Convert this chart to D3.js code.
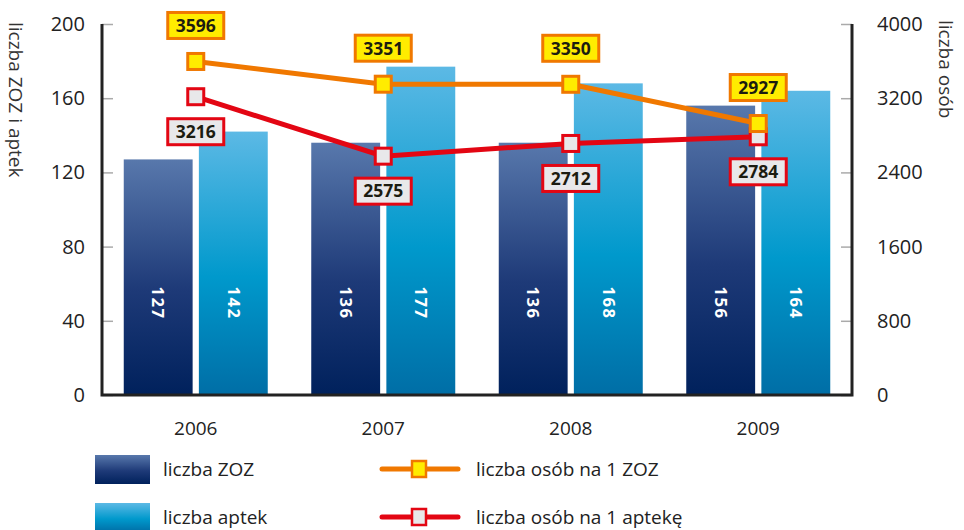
<!DOCTYPE html>
<html>
<head>
  <meta charset="utf-8">
  <title>ZOZ i apteki</title>
  <script src="https://d3js.org/d3.v7.min.js"></script>
  <style>
    body { margin: 0; background: #fff; }
    text { font-family: "Open Sans", sans-serif; }
  </style>
</head>
<body>
<script>
// dane
var years = ["2006", "2007", "2008", "2009"];
var zoz = [127, 136, 136, 156];
var aptek = [142, 177, 168, 164];
var osobNaZoz = [3596, 3351, 3350, 2927];
var osobNaApteke = [3216, 2575, 2712, 2784];
var leftTicks = [0, 40, 80, 120, 160, 200];
var rightTicks = [0, 800, 1600, 2400, 3200, 4000];

var width = 964, height = 530;
var margin = { top: 24, bottom: 135, left: 102, right: 112 };
var plotBottom = height - margin.bottom;

var svg = d3.select("body").append("svg").attr("width", width).attr("height", height);

// gradienty
var defs = svg.append("defs");
var g1 = defs.append("linearGradient").attr("id", "gZoz").attr("x1", 0).attr("y1", 0).attr("x2", 0).attr("y2", 1);
g1.append("stop").attr("offset", "0%").attr("stop-color", "#5878ac");
g1.append("stop").attr("offset", "55%").attr("stop-color", "#1e3a78");
g1.append("stop").attr("offset", "100%").attr("stop-color", "#00215c");
var g2 = defs.append("linearGradient").attr("id", "gApt").attr("x1", 0).attr("y1", 0).attr("x2", 0).attr("y2", 1);
g2.append("stop").attr("offset", "0%").attr("stop-color", "#5cb9e5");
g2.append("stop").attr("offset", "55%").attr("stop-color", "#0099cc");
g2.append("stop").attr("offset", "100%").attr("stop-color", "#006ea6");

// skale
var x0 = d3.scaleBand().domain(years)
  .range([margin.left, width - margin.right])
  .paddingInner(0.232).paddingOuter(0.116);
var x1 = d3.scaleBand().domain(["zoz", "aptek"])
  .range([0, x0.bandwidth()]).paddingInner(0.083);
var yL = d3.scaleLinear().domain([0, 200]).range([plotBottom, margin.top]);
var yR = d3.scaleLinear().domain([0, 4000]).range([plotBottom, margin.top]);

// słupki
var groups = svg.append("g").selectAll("g").data(years).join("g")
  .attr("transform", function(d) { return "translate(" + x0(d) + ",0)"; });

groups.append("rect")
  .attr("x", x1("zoz")).attr("width", x1.bandwidth())
  .attr("y", function(d, i) { return yL(zoz[i]); })
  .attr("height", function(d, i) { return plotBottom - yL(zoz[i]); })
  .attr("fill", "url(#gZoz)");
groups.append("rect")
  .attr("x", x1("aptek")).attr("width", x1.bandwidth())
  .attr("y", function(d, i) { return yL(aptek[i]); })
  .attr("height", function(d, i) { return plotBottom - yL(aptek[i]); })
  .attr("fill", "url(#gApt)");

function barLabel(key, vals) {
  groups.append("text")
    .attr("transform", function(d) {
      return "translate(" + (x1(key) + x1.bandwidth() / 2) + ",303) rotate(90)";
    })
    .attr("text-anchor", "middle").attr("dy", "0.35em")
    .attr("fill", "#fff").attr("font-weight", "bold").attr("font-size", "16.5px")
    .attr("letter-spacing", "1.5px")
    .text(function(d, i) { return vals[i]; });
}
barLabel("zoz", zoz);
barLabel("aptek", aptek);

// osie
var axL = svg.append("g").attr("transform", "translate(" + margin.left + ",0)")
  .call(d3.axisRight(yL).tickValues(leftTicks).tickSize(11).tickFormat(""));
var axR = svg.append("g").attr("transform", "translate(" + (width - margin.right) + ",0)")
  .call(d3.axisLeft(yR).tickValues(rightTicks).tickSize(11).tickFormat(""));
[axL, axR].forEach(function(a) {
  a.select(".domain").remove();
  a.selectAll(".tick line").attr("stroke", "#aaa").attr("stroke-width", 1.5);
});

svg.append("g").selectAll("text").data(leftTicks).join("text")
  .attr("x", 85).attr("y", function(d) { return yL(d); }).attr("dy", "0.35em")
  .attr("text-anchor", "end").attr("font-size", "20px").attr("fill", "#222")
  .text(function(d) { return d; });
svg.append("g").selectAll("text").data(rightTicks).join("text")
  .attr("x", 877).attr("y", function(d) { return yR(d); }).attr("dy", "0.35em")
  .attr("text-anchor", "start").attr("font-size", "20px").attr("fill", "#222")
  .text(function(d) { return d; });
svg.append("g").selectAll("text").data(years).join("text")
  .attr("x", function(d) { return x0(d) + x0.bandwidth() / 2; }).attr("y", 428)
  .attr("dy", "0.35em").attr("text-anchor", "middle").attr("font-size", "19px").attr("fill", "#222")
  .text(function(d) { return d; });

svg.append("path")
  .attr("d", "M" + margin.left + "," + margin.top + "V" + plotBottom + "H" + (width - margin.right) + "V" + margin.top)
  .attr("fill", "none").attr("stroke", "#222").attr("stroke-width", 3);

svg.append("text").attr("transform", "translate(16,22) rotate(90)")
  .attr("font-size", "19px").attr("fill", "#333").attr("dy", "0.35em")
  .text("liczba ZOZ i aptek");
svg.append("text").attr("transform", "translate(946,20) rotate(90)")
  .attr("font-size", "19px").attr("fill", "#333").attr("dy", "0.35em")
  .text("liczba osób");

// linie
var cx = function(d, i) { return x0(years[i]) + x0.bandwidth() / 2; };
function series(vals, stroke, fill, offset) {
  svg.append("path").datum(vals)
    .attr("fill", "none").attr("stroke", stroke).attr("stroke-width", 5)
    .attr("d", d3.line().x(cx).y(function(d) { return yR(d); }));
  svg.append("g").selectAll("rect").data(vals).join("rect")
    .attr("x", function(d, i) { return cx(d, i) - 8; })
    .attr("y", function(d) { return yR(d) - 8; })
    .attr("width", 16).attr("height", 16)
    .attr("fill", fill).attr("stroke", stroke).attr("stroke-width", 3);
  var lab = svg.append("g").selectAll("g").data(vals).join("g")
    .attr("transform", function(d, i) {
      return "translate(" + cx(d, i) + "," + (yR(d) + offset) + ")";
    });
  lab.append("rect").attr("x", -28).attr("y", -13).attr("width", 56).attr("height", 26)
    .attr("fill", fill).attr("stroke", stroke).attr("stroke-width", 3);
  lab.append("text").attr("text-anchor", "middle").attr("dy", "0.36em")
    .attr("font-family", "DejaVu Sans").attr("font-weight", "bold").attr("font-size", "17.5px")
    .attr("fill", "#1c1c10")
    .text(function(d) { return d; });
}
series(osobNaApteke, "#e30613", "#e8e8ea", 35);
series(osobNaZoz, "#f07800", "#ffec00", -36);

// legenda
var leg = svg.append("g");
leg.append("rect").attr("x", 95).attr("y", 455).attr("width", 55).attr("height", 29).attr("fill", "url(#gZoz)");
leg.append("rect").attr("x", 95).attr("y", 503).attr("width", 55).attr("height", 29).attr("fill", "url(#gApt)");
leg.append("text").attr("x", 163).attr("y", 469).attr("dy", "0.35em").attr("font-size", "19px").attr("fill", "#222").text("liczba ZOZ");
leg.append("text").attr("x", 163).attr("y", 517).attr("dy", "0.35em").attr("font-size", "19px").attr("fill", "#222").text("liczba aptek");
[[469, "#f07800", "#ffec00", "liczba osób na 1 ZOZ"], [517, "#e30613", "#e8e8ea", "liczba osób na 1 aptekę"]].forEach(function(r) {
  leg.append("line").attr("x1", 382).attr("x2", 458).attr("y1", r[0]).attr("y2", r[0])
    .attr("stroke", r[1]).attr("stroke-width", 5).attr("stroke-linecap", "round");
  leg.append("rect").attr("x", 412).attr("y", r[0] - 8).attr("width", 14).attr("height", 16)
    .attr("fill", r[2]).attr("stroke", r[1]).attr("stroke-width", 2.5);
  leg.append("text").attr("x", 476).attr("y", r[0]).attr("dy", "0.35em").attr("font-size", "19px").attr("fill", "#222").text(r[3]);
});
</script>
</body>
</html>
